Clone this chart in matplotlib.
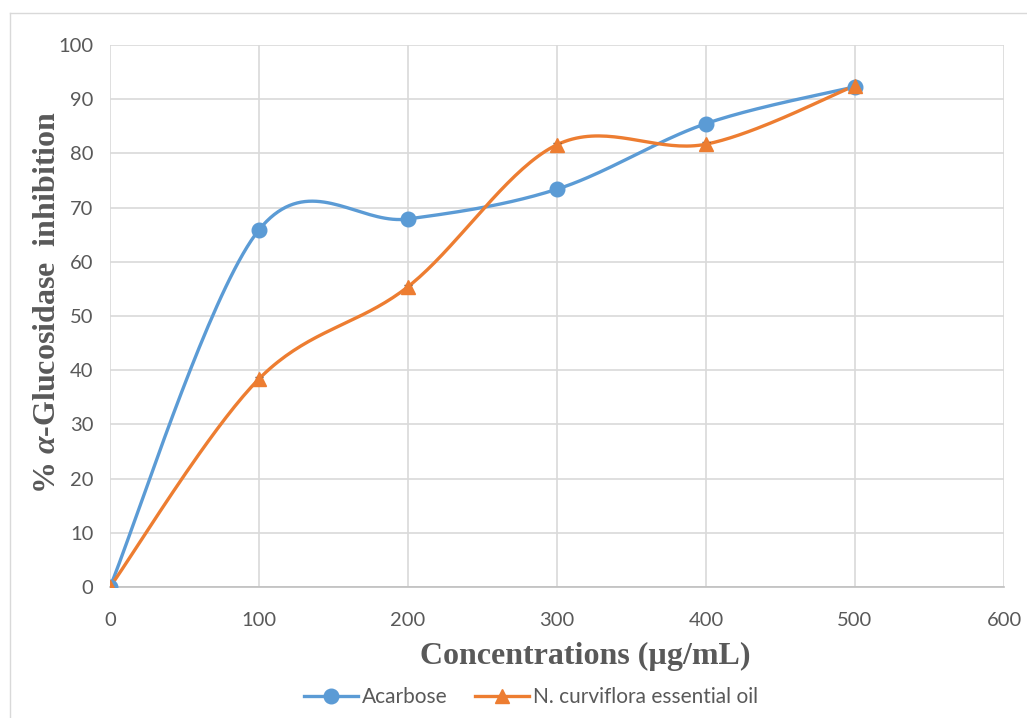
import matplotlib
matplotlib.use("Agg")
import matplotlib.pyplot as plt
from matplotlib.lines import Line2D
import numpy as np

# data
conc = [0, 100, 200, 300, 400, 500]
acarbose = [0.0, 65.9, 67.9, 73.4, 85.5, 92.3]
curviflora = [0.0, 38.4, 55.4, 81.6, 81.7, 92.5]
acarbose_err = [0.3, 0.3, 0.3, 0.3, 0.3, 0.3]
curviflora_err = [0.4, 0.4, 0.4, 0.4, 0.4, 0.4]

blue = '#5B9BD5'
orange = '#ED7D31'

plt.rcParams['mathtext.fontset'] = 'custom'
plt.rcParams['mathtext.it'] = 'Liberation Serif:italic:bold'
plt.rcParams['mathtext.rm'] = 'Liberation Serif:bold'


def smooth(x, y, n=40):
    # Excel-style smoothed line: cubic Bezier segments with Catmull-Rom control points
    p = np.column_stack([x, y]).astype(float)
    p_ext = np.vstack([p[0], p, p[-1]])
    t = np.linspace(0, 1, n)[:, None]
    out = []
    for i in range(len(p) - 1):
        p0, p1, p2, p3 = p_ext[i], p_ext[i + 1], p_ext[i + 2], p_ext[i + 3]
        c1 = p1 + (p2 - p0) / 6
        c2 = p2 - (p3 - p1) / 6
        seg = ((1 - t) ** 3) * p1 + 3 * ((1 - t) ** 2) * t * c1 + 3 * (1 - t) * t ** 2 * c2 + t ** 3 * p2
        out.append(seg if i == 0 else seg[1:])
    out = np.vstack(out)
    return out[:, 0], out[:, 1]


fig = plt.figure(figsize=(10.27, 7.18), dpi=100)
ax = fig.add_axes([110 / 1027, 1 - 587 / 718, 894 / 1027, 542 / 718])

# outer chart-area border
fig.add_artist(Line2D([10 / 1027, 10 / 1027], [0, 1 - 13 / 718], transform=fig.transFigure, color='#d9d9d9', lw=1))
fig.add_artist(Line2D([10 / 1027, 1], [1 - 13 / 718, 1 - 13 / 718], transform=fig.transFigure, color='#d9d9d9', lw=1))

for xs, ys, err, col, mk in [(conc, acarbose, acarbose_err, blue, 'o'),
                             (conc, curviflora, curviflora_err, orange, '^')]:
    sx, sy = smooth(xs, ys)
    ax.plot(sx, sy, color=col, lw=2.4, zorder=3, solid_capstyle='round')
    ax.errorbar(xs, ys, yerr=err, fmt='none', ecolor='#404040', elinewidth=0.8, capsize=3, zorder=3.5)
    ax.plot(xs, ys, linestyle='none', marker=mk, color=col, markersize=10.5, zorder=4)

ax.set_xlim(0, 600)
ax.set_ylim(0, 100)
ax.set_xticks(range(0, 601, 100))
ax.set_yticks(range(0, 101, 10))
ax.grid(True, color='#d9d9d9', lw=1.2)
ax.set_axisbelow(True)
for s in ['top', 'right', 'left']:
    ax.spines[s].set_visible(False)
ax.spines['bottom'].set_color('#bfbfbf')
ax.spines['bottom'].set_linewidth(1.2)
ax.tick_params(length=0, labelsize=14.5, labelcolor='#595959')
ax.tick_params(axis='x', pad=18)
ax.tick_params(axis='y', pad=12)
for lab in ax.get_xticklabels() + ax.get_yticklabels():
    lab.set_family('Lato')

# axis titles placed where the reference has them
fig.text(585 / 1027, 1 - 656 / 718, 'Concentrations (µg/mL)', family='Liberation Serif', weight='bold',
         fontsize=23, color='#595959', ha='center', va='center')
fig.text(48 / 1027, 1 - 303 / 718, r'% $\alpha$-Glucosidase  inhibition', family='Liberation Serif', weight='bold',
         fontsize=23, color='#595959', ha='center', va='center', rotation=90)

handles = [Line2D([], [], color=blue, lw=2.4, marker='o', markersize=10.5),
           Line2D([], [], color=orange, lw=2.4, marker='^', markersize=10.5)]
fig.legend(handles, ['Acarbose', 'N. curviflora essential oil'], loc='center', bbox_to_anchor=(531 / 1027, 1 - 697 / 718),
           ncol=2, frameon=False, prop={'family': 'Lato', 'size': 15}, labelcolor='#595959',
           handlelength=2.6, columnspacing=1.3, handletextpad=0.2)

fig.savefig('out.png', dpi=100)
